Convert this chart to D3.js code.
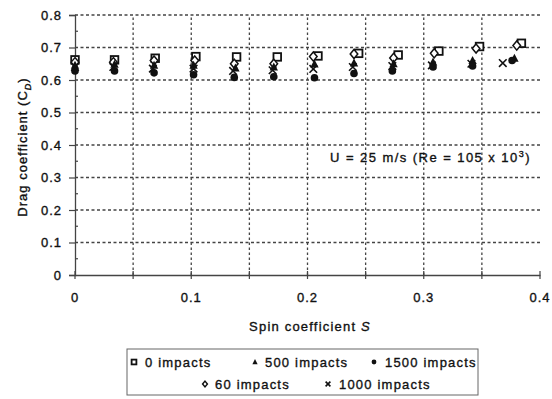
<!DOCTYPE html>
<html><head><meta charset="utf-8">
<script src="https://cdn.jsdelivr.net/npm/d3@7"></script>
<style>body{margin:0;background:#fff}text{font-family:"Liberation Sans",Arial,sans-serif;fill:#111;stroke:#111;stroke-width:0.35px}</style>
</head><body><svg id="c" width="552" height="399"></svg>
<script>
// ---- data ----
const xTicks = [0, 0.1, 0.2, 0.3, 0.4];
const yTicks = [0, 0.1, 0.2, 0.3, 0.4, 0.5, 0.6, 0.7, 0.8];
const seriesNames = ["0 impacts", "60 impacts", "500 impacts", "1000 impacts", "1500 impacts"];
const s0    = [0, 0.034, 0.069, 0.104, 0.139, 0.174, 0.209, 0.244, 0.278, 0.313, 0.348, 0.384];
const cd0   = [0.662, 0.662, 0.667, 0.672, 0.671, 0.671, 0.674, 0.682, 0.677, 0.689, 0.703, 0.713];
const s60   = [0, 0.033, 0.068, 0.103, 0.137, 0.171, 0.205, 0.240, 0.274, 0.309, 0.345, 0.380];
const cd60  = [0.655, 0.655, 0.660, 0.660, 0.650, 0.650, 0.672, 0.680, 0.668, 0.682, 0.697, 0.706];
const s500  = [0, 0.034, 0.068, 0.102, 0.138, 0.171, 0.206, 0.240, 0.274, 0.308, 0.342, 0.378];
const cd500 = [0.645, 0.648, 0.645, 0.645, 0.637, 0.640, 0.649, 0.652, 0.650, 0.655, 0.660, 0.667];
const s1000 = [0, 0.033, 0.067, 0.102, 0.136, 0.170, 0.205, 0.239, 0.273, 0.307, 0.341, 0.368];
const cd1000= [0.640, 0.640, 0.635, 0.635, 0.628, 0.630, 0.634, 0.640, 0.643, 0.645, 0.650, 0.652];
const s1500 = [0, 0.034, 0.068, 0.102, 0.137, 0.171, 0.206, 0.240, 0.273, 0.308, 0.342, 0.376];
const cd1500= [0.628, 0.628, 0.622, 0.616, 0.608, 0.610, 0.607, 0.620, 0.628, 0.640, 0.643, 0.660];

const svg = d3.select("#c");
const x = d3.scaleLinear().domain([0, 0.4]).range([75, 540]);
const y = d3.scaleLinear().domain([0, 0.8]).range([275, 15]);

// grid
const xMinor = d3.range(0.05, 0.351, 0.05);
svg.append("g").selectAll("line").data(xMinor).join("line")
  .attr("x1", d => x(d)).attr("x2", d => x(d)).attr("y1", y(0)).attr("y2", y(0.8))
  .attr("stroke", "#444").attr("stroke-width", 1.3).attr("stroke-dasharray", "2.5,2.5");
svg.append("g").selectAll("line").data(yTicks.slice(1)).join("line")
  .attr("x1", x(0)).attr("x2", x(0.4)).attr("y1", d => y(d)).attr("y2", d => y(d))
  .attr("stroke", "#444").attr("stroke-width", 1.3).attr("stroke-dasharray", "3,2.5");

// axes
const xAxis = svg.append("g").attr("transform", `translate(0,${y(0)})`)
  .call(d3.axisBottom(x).tickValues(d3.range(0, 0.401, 0.05)).tickSize(0).tickFormat(""));
xAxis.select(".domain").attr("stroke", "#444").attr("stroke-width", 1.3);
svg.append("g").selectAll("line").data(d3.range(0, 0.401, 0.05)).join("line")
  .attr("x1", d => x(d)).attr("x2", d => x(d)).attr("y1", y(0) - 4).attr("y2", y(0) + 4)
  .attr("stroke", "#444").attr("stroke-width", 1.2);
svg.append("g").selectAll("text").data(xTicks).join("text")
  .attr("x", d => x(d)).attr("y", 302).attr("text-anchor", "middle")
  .style("font-size", "13px").style("letter-spacing", "1px").text(d => d === 0 ? "0" : d3.format(".1f")(d));

const yAxis = svg.append("g").attr("transform", `translate(${x(0)},0)`)
  .call(d3.axisLeft(y).tickValues(yTicks).tickSize(6).tickFormat(""));
yAxis.select(".domain").attr("stroke", "#444").attr("stroke-width", 1.3);
yAxis.selectAll(".tick line").attr("stroke", "#444").attr("stroke-width", 1.2);
svg.append("g").selectAll("line").data(d3.range(0.05, 0.8, 0.1)).join("line")
  .attr("x1", x(0)).attr("x2", x(0) + 3).attr("y1", d => y(d)).attr("y2", d => y(d))
  .attr("stroke", "#444").attr("stroke-width", 1.2);
svg.append("g").selectAll("text").data(yTicks).join("text")
  .attr("x", 62).attr("y", d => y(d) + 4.5).attr("text-anchor", "end")
  .style("font-size", "13px").style("letter-spacing", "1px").text(d => d === 0 ? "0" : d3.format(".1f")(d));

// axis titles
const yt = svg.append("text").attr("transform", "translate(27,147) rotate(-90)")
  .attr("text-anchor", "middle").style("font-size", "13px").style("letter-spacing", "1px");
yt.append("tspan").text("Drag coefficient (C");
yt.append("tspan").attr("dy", 4).style("font-size", "9px").style("font-style", "italic").text("D");
yt.append("tspan").attr("dy", -4).text(")");
const xt = svg.append("text").attr("x", 310).attr("y", 331).attr("text-anchor", "middle")
  .style("font-size", "13px").style("letter-spacing", "1.2px");
xt.append("tspan").text("Spin coefficient ");
xt.append("tspan").style("font-style", "italic").text("S");

// annotation
const ann = svg.append("text").attr("x", 330).attr("y", 162).style("font-size", "13px").style("letter-spacing", "1.45px");
ann.append("tspan").text("U = 25 m/s (Re = 105 x 10");
ann.append("tspan").attr("dy", -5).style("font-size", "9px").text("3");
ann.append("tspan").attr("dy", 5).text(")");

// markers
function marker(g, type, cx, cy, r) {
  if (type === "square") g.append("rect").attr("x", cx - r).attr("y", cy - r).attr("width", 2 * r).attr("height", 2 * r)
    .attr("fill", "#fff").attr("stroke", "#111").attr("stroke-width", 1.8);
  else if (type === "diamond") g.append("path").attr("d", `M${cx},${cy - r * 1.2}L${cx + r},${cy}L${cx},${cy + r * 1.2}L${cx - r},${cy}Z`)
    .attr("fill", "#fff").attr("stroke", "#111").attr("stroke-width", 1.5);
  else if (type === "triangle") g.append("path").attr("d", `M${cx},${cy - r * 1.2}L${cx + r * 1.1},${cy + r * 0.9}L${cx - r * 1.1},${cy + r * 0.9}Z`)
    .attr("fill", "#111");
  else if (type === "circle") g.append("circle").attr("cx", cx).attr("cy", cy).attr("r", r).attr("fill", "#111");
  else if (type === "cross") g.append("path").attr("d", `M${cx - r},${cy - r}L${cx + r},${cy + r}M${cx - r},${cy + r}L${cx + r},${cy - r}`)
    .attr("stroke", "#111").attr("stroke-width", 1.6);
}
const series = [
  {name: seriesNames[0], type: "square", s: s0, cd: cd0},
  {name: seriesNames[1], type: "diamond", s: s60, cd: cd60},
  {name: seriesNames[2], type: "triangle", s: s500, cd: cd500},
  {name: seriesNames[3], type: "cross", s: s1000, cd: cd1000},
  {name: seriesNames[4], type: "circle", s: s1500, cd: cd1500}
];
const pts = svg.append("g");
series.forEach(se => se.s.forEach((sv, i) => marker(pts, se.type, x(sv), y(se.cd[i]), 3.8)));

// legend
const lg = svg.append("g");
lg.append("rect").attr("x", 127).attr("y", 349).attr("width", 351).attr("height", 46)
  .attr("fill", "#fff").attr("stroke", "#666").attr("stroke-width", 1);
const legendItems = [
  {i: 0, mx: 134, my: 362, tx: 145, ty: 367},
  {i: 2, mx: 255, my: 362, tx: 265, ty: 367},
  {i: 4, mx: 374, my: 362, tx: 385, ty: 367},
  {i: 1, mx: 205, my: 384, tx: 215, ty: 389},
  {i: 3, mx: 328, my: 384, tx: 339, ty: 389}
];
legendItems.forEach(it => {
  marker(lg, series[it.i].type, it.mx, it.my, 2.4);
  lg.append("text").attr("x", it.tx).attr("y", it.ty).style("font-size", "13px").style("letter-spacing", "1.2px")
    .text(series[it.i].name);
});
</script></body></html>
